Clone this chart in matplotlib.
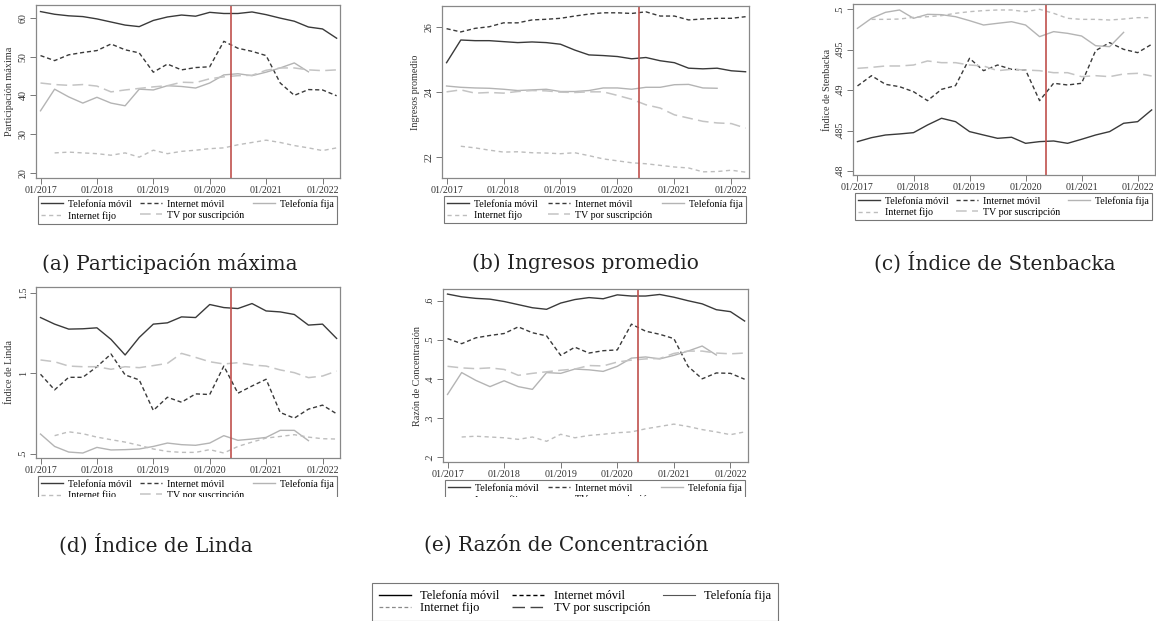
import matplotlib
matplotlib.use("Agg")
import matplotlib.pyplot as plt
from matplotlib.lines import Line2D
from matplotlib.patches import Rectangle
import numpy as np

plt.rcParams['font.family'] = ['Liberation Serif', 'DejaVu Serif']

nan = np.nan

# trimestres 2017T1 - 2022T2
trimestres = np.arange(2017, 2022.5, 0.25)
corte = 2020.37
anios = [2017, 2018, 2019, 2020, 2021, 2022]
etiquetas_x = ["01/%d" % a for a in anios]

servicios = ["Telefonía móvil", "Internet móvil", "Telefonía fija",
             "Internet fijo", "TV por suscripción"]

# (a) Participación máxima
pm_tel_movil = [61.7, 61.0, 60.6, 60.4, 59.8, 59.0, 58.2, 57.8, 59.4, 60.3, 60.8,
                60.5, 61.5, 61.2, 61.2, 61.6, 60.9, 60.0, 59.2, 57.7, 57.2, 54.8]
pm_int_movil = [50.3, 49.0, 50.5, 51.1, 51.6, 53.3, 51.8, 51.0, 46.0, 48.1, 46.6,
                47.2, 47.4, 54.0, 52.2, 51.4, 50.3, 43.2, 40.0, 41.5, 41.4, 39.9]
pm_tel_fija = [36.0, 41.6, 39.6, 38.0, 39.5, 38.0, 37.3, 41.6, 41.4, 42.5, 42.3,
               41.9, 43.2, 45.3, 45.6, 45.1, 46.0, 47.1, 48.4, 46.1, nan, nan]
pm_int_fijo = [nan, 25.1, 25.3, 25.1, 24.9, 24.5, 25.1, 24.0, 25.8, 24.9, 25.5,
               25.8, 26.2, 26.4, 27.2, 27.8, 28.4, 27.8, 27.0, 26.4, 25.7, 26.4]
pm_tv = [43.2, 42.8, 42.6, 42.8, 42.4, 40.9, 41.4, 41.8, 42.2, 42.5, 43.4,
         43.3, 44.3, 44.8, 45.1, 45.2, 46.5, 47.1, 47.1, 46.6, 46.4, 46.6]

# (b) Ingresos promedio
ip_tel_movil = [24.91, 25.61, 25.59, 25.59, 25.56, 25.53, 25.55, 25.53, 25.48, 25.30, 25.15,
                25.13, 25.10, 25.03, 25.07, 24.97, 24.91, 24.74, 24.72, 24.74, 24.66, 24.63]
ip_int_movil = [25.96, 25.86, 25.97, 26.02, 26.14, 26.14, 26.23, 26.25, 26.28, 26.35, 26.41,
                26.45, 26.45, 26.43, 26.48, 26.35, 26.35, 26.23, 26.26, 26.28, 26.28, 26.33]
ip_tel_fija = [24.19, 24.15, 24.13, 24.12, 24.09, 24.05, 24.07, 24.09, 24.02, 24.02, 24.05,
               24.13, 24.13, 24.09, 24.15, 24.15, 24.23, 24.24, 24.13, 24.12, nan, nan]
ip_int_fijo = [nan, 22.33, 22.28, 22.21, 22.15, 22.16, 22.13, 22.12, 22.10, 22.13, 22.04,
               21.94, 21.88, 21.82, 21.79, 21.74, 21.69, 21.66, 21.54, 21.55, 21.59, 21.53]
ip_tv = [24.01, 24.07, 23.97, 23.99, 23.97, 24.02, 24.05, 24.04, 24.00, 23.99, 24.01,
         24.01, 23.90, 23.78, 23.61, 23.51, 23.30, 23.20, 23.10, 23.05, 23.03, 22.89]

# (c) Índice de Stenbacka
st_tel_movil = [.48363, .48412, .48445, .48458, .48474, .48569, .48652, .48610, .48487, .48445, .48404,
                .48417, .48342, .48363, .48371, .48342, .48392, .48445, .48487, .48590, .48610, .48755]
st_int_movil = [.49052, .49179, .49072, .49043, .48981, .48870, .49010, .49056, .49394, .49241, .49311,
                .49258, .49249, .48870, .49085, .49064, .49085, .49489, .49588, .49505, .49464, .49567]
st_tel_fija = [.49765, .49889, .49963, .49992, .49889, .49938, .49934, .49909, .49860, .49806, .49827,
               .49847, .49806, .49662, .49724, .49703, .49670, .49550, .49538, .49715, nan, nan]
st_int_fijo = [nan, .49876, .49876, .49880, .49901, .49909, .49922, .49951, .49971, .49984, .49992,
               .49992, .49971, .50000, .49951, .49889, .49876, .49876, .49868, .49880, .49897, .49897]
st_tv = [.49270, .49282, .49299, .49299, .49311, .49361, .49340, .49340, .49311, .49299, .49241,
         .49258, .49249, .49241, .49216, .49216, .49167, .49179, .49167, .49200, .49208, .49175]

# (d) Índice de Linda
li_tel_movil = [1.347, 1.306, 1.275, 1.277, 1.283, 1.211, 1.114, 1.223, 1.306, 1.314, 1.351,
                1.347, 1.428, 1.409, 1.403, 1.434, 1.388, 1.382, 1.366, 1.300, 1.306, 1.217]
li_int_movil = [0.994, 0.897, 0.975, 0.975, 1.041, 1.120, 0.990, 0.959, 0.769, 0.851, 0.820,
                0.872, 0.868, 1.045, 0.876, 0.921, 0.963, 0.756, 0.721, 0.777, 0.802, 0.748]
li_tel_fija = [0.622, 0.545, 0.510, 0.504, 0.539, 0.523, 0.525, 0.529, 0.545, 0.566, 0.556,
               0.552, 0.566, 0.612, 0.583, 0.591, 0.601, 0.645, 0.645, 0.581, nan, nan]
li_int_fijo = [nan, 0.612, 0.636, 0.624, 0.603, 0.587, 0.572, 0.552, 0.529, 0.514, 0.508,
               0.508, 0.525, 0.504, 0.545, 0.572, 0.597, 0.607, 0.618, 0.603, 0.593, 0.591]
li_tv = [1.083, 1.072, 1.045, 1.041, 1.041, 1.025, 1.041, 1.035, 1.048, 1.062, 1.124,
         1.099, 1.072, 1.058, 1.066, 1.052, 1.045, 1.021, 1.004, 0.973, 0.983, 1.014]

# (e) Razón de Concentración
rc_tel_movil = [.617, .610, .606, .604, .598, .590, .582, .578, .594, .603, .608,
                .605, .615, .612, .612, .616, .609, .600, .592, .577, .572, .548]
rc_int_movil = [.503, .490, .505, .511, .516, .533, .518, .510, .460, .481, .466,
                .472, .474, .540, .522, .514, .503, .432, .400, .415, .414, .399]
rc_tel_fija = [.360, .416, .396, .380, .395, .380, .373, .416, .414, .425, .423,
               .419, .432, .453, .456, .451, .460, .471, .484, .461, nan, nan]
rc_int_fijo = [nan, .251, .253, .251, .249, .245, .251, .240, .258, .249, .255,
               .258, .262, .264, .272, .278, .284, .278, .270, .264, .257, .264]
rc_tv = [.432, .428, .426, .428, .424, .409, .414, .418, .422, .425, .434,
         .433, .443, .448, .451, .452, .465, .471, .471, .466, .464, .466]

estilos = [
    dict(color="#3a3a3a", lw=1.0, ls="-"),
    dict(color="#3a3a3a", lw=1.0, ls=(0, (3, 2))),
    dict(color="#b4b4b4", lw=1.0, ls="-"),
    dict(color="#bdbdbd", lw=1.0, ls=(0, (3, 2.5))),
    dict(color="#c4c4c4", lw=1.1, ls=(0, (7, 3.5))),
]

W, H = 1156, 621
fig = plt.figure(figsize=(W / 100, H / 100), dpi=100)


def panel(caja, series, yticks, ytlabels, ylim, ylabel, titulo, pos_titulo):
    x0, y0, x1, y1 = caja
    ax = fig.add_axes([x0 / W, 1 - y1 / H, (x1 - x0) / W, (y1 - y0) / H])
    lineas = []
    for datos, est in zip(series, estilos):
        ln, = ax.plot(trimestres, datos, **est)
        lineas.append(ln)
    ax.axvline(corte, color="#c0504d", lw=1.2)
    ax.set_xlim(2016.92, 2022.31)
    ax.set_ylim(*ylim)
    ax.set_xticks(anios)
    ax.set_xticklabels(etiquetas_x)
    ax.set_yticks(yticks)
    ax.set_yticklabels(ytlabels, rotation=90, va="center")
    ax.set_ylabel(ylabel, fontsize=7.3, color="#333", labelpad=3)
    ax.tick_params(labelsize=7.2, length=4, width=0.7, color="#777",
                   labelcolor="#333", pad=2)
    for s in ax.spines.values():
        s.set_color("#888")
        s.set_linewidth(0.9)
    orden = [0, 3, 1, 4, 2]
    leg = ax.legend([lineas[i] for i in orden], [servicios[i] for i in orden],
                    ncol=3, loc="upper left", mode="expand",
                    bbox_to_anchor=(0.005, -0.105, 0.985, 0),
                    borderaxespad=0, fontsize=7.2, handlelength=2.2,
                    labelspacing=0.2, borderpad=0.3, handletextpad=0.5,
                    fancybox=False, framealpha=1, edgecolor="#777")
    leg.get_frame().set_linewidth(0.8)
    fig.text(pos_titulo[0] / W, 1 - pos_titulo[1] / H, titulo,
             fontsize=14.5, ha="center", va="center", color="#222",
             family=["DejaVu Serif"])
    return ax


panel((36, 5, 340, 178),
      [pm_tel_movil, pm_int_movil, pm_tel_fija, pm_int_fijo, pm_tv],
      [20, 30, 40, 50, 60], ["20", "30", "40", "50", "60"], (18.6, 63.4),
      "Participación máxima", "(a) Participación máxima", (170, 263))

panel((442, 6, 749, 178),
      [ip_tel_movil, ip_int_movil, ip_tel_fija, ip_int_fijo, ip_tv],
      [22, 24, 26], ["22", "24", "26"], (21.35, 26.66),
      "Ingresos promedio", "(b) Ingresos promedio", (585, 263))

panel((853, 4, 1155, 175),
      [st_tel_movil, st_int_movil, st_tel_fija, st_int_fijo, st_tv],
      [.48, .485, .49, .495, .5], [".48", ".485", ".49", ".495", ".5"],
      (.4795, .50066),
      "Índice de Stenbacka", "(c) Índice de Stenbacka", (995, 263))

panel((36, 287, 340, 458),
      [li_tel_movil, li_int_movil, li_tel_fija, li_int_fijo, li_tv],
      [.5, 1, 1.5], [".5", "1", "1.5"], (0.473, 1.537),
      "Índice de Linda", "(d) Índice de Linda", (156, 545))

panel((443, 289, 748, 462),
      [rc_tel_movil, rc_int_movil, rc_tel_fija, rc_int_fijo, rc_tv],
      [.2, .3, .4, .5, .6], [".2", ".3", ".4", ".5", ".6"], (.187, .63),
      "Razón de Concentración", "(e) Razón de Concentración", (566, 545))

# las leyendas de (d) y (e) quedan recortadas por abajo
fig.patches.append(Rectangle((0, 1 - 524 / H), 780 / W, 27 / H,
                             transform=fig.transFigure, facecolor="white",
                             edgecolor="none", zorder=10))

# leyenda general
estilos_leyenda = [
    dict(color="black", lw=1.0, ls="-"),
    dict(color="black", lw=1.0, ls=(0, (3, 2))),
    dict(color="#555555", lw=0.8, ls="-"),
    dict(color="#8a8a8a", lw=0.9, ls=(0, (3, 2))),
    dict(color="#444444", lw=1.0, ls=(0, (9, 4))),
]
manejadores = [Line2D([], [], **e) for e in estilos_leyenda]
orden = [0, 3, 1, 4, 2]
leg = fig.legend([manejadores[i] for i in orden], [servicios[i] for i in orden],
                 ncol=3, loc="upper left", mode="expand",
                 bbox_to_anchor=(372 / W, 1 - 583 / H, 406 / W, 0),
                 borderaxespad=0, fontsize=9, handlelength=2.6,
                 labelspacing=0.05, borderpad=0.55, handletextpad=0.7,
                 fancybox=False, framealpha=1, edgecolor="#777")
leg.get_frame().set_linewidth(0.8)

fig.savefig("out.png", dpi=100)
